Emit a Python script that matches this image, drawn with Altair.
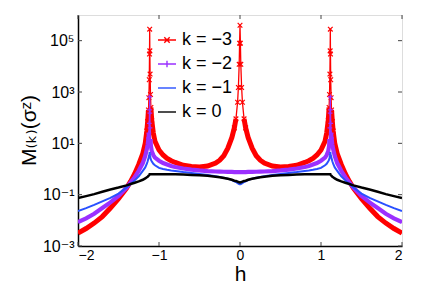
import math
import altair as alt
import pandas as pd

# ---------------- data ----------------
h = [-2.0, -1.9, -1.8, -1.7, -1.6, -1.5, -1.4, -1.35, -1.3, -1.25, -1.2,
     -1.17, -1.15, -1.14, -1.13, -1.125, -1.12, -1.117, -1.115, -1.113, -1.11,
     -1.105, -1.1, -1.09, -1.07, -1.05, -1.0, -0.95, -0.9, -0.85, -0.8, -0.7,
     -0.6, -0.5, -0.4, -0.3, -0.25, -0.2, -0.15, -0.1, -0.07, -0.05, -0.03,
     -0.02, -0.01, -0.005, 0.0,
     0.005, 0.01, 0.02, 0.03, 0.05, 0.07, 0.1, 0.15, 0.2, 0.25, 0.3, 0.4, 0.5,
     0.6, 0.7, 0.8, 0.85, 0.9, 0.95, 1.0, 1.05, 1.07, 1.09, 1.1, 1.105, 1.11,
     1.113, 1.115, 1.117, 1.12, 1.125, 1.13, 1.14, 1.15, 1.17, 1.2, 1.25, 1.3,
     1.35, 1.4, 1.5, 1.6, 1.7, 1.8, 1.9, 2.0]

m_k_minus3 = [0.0032, 0.0048, 0.0078, 0.014, 0.03, 0.07, 0.18, 0.33, 0.65, 1.5, 4,
              10, 30, 70, 200, 600, 3000, 30000, 280000, 40000, 5000,
              800, 250, 80, 25, 12, 5.5, 3.5, 2.6, 2.1, 1.8, 1.4,
              1.25, 1.2, 1.3, 1.7, 2.2, 3.3, 6.5, 17, 40, 90, 400,
              1500, 12000, 80000, 400000,
              80000, 12000, 1500, 400, 90, 40, 17, 6.5, 3.3, 2.2, 1.7, 1.3, 1.2,
              1.25, 1.4, 1.8, 2.1, 2.6, 3.5, 5.5, 12, 25, 80, 250, 800, 5000,
              40000, 280000, 30000, 3000, 600, 200, 70, 30, 10, 4, 1.5, 0.65,
              0.33, 0.18, 0.07, 0.03, 0.014, 0.0078, 0.0048, 0.0032]

m_k_minus2 = [0.0085, 0.012, 0.018, 0.03, 0.05, 0.09, 0.19, 0.3, 0.48, 0.85, 1.7,
              3.2, 6, 9, 16, 25, 60, 200, 650, 150, 40,
              14, 8, 5, 3.5, 2.8, 2.1, 1.7, 1.5, 1.3, 1.2, 1.05,
              0.95, 0.88, 0.83, 0.8, 0.79, 0.78, 0.77, 0.77, 0.76, 0.76, 0.76,
              0.76, 0.76, 0.76, 0.76,
              0.76, 0.76, 0.76, 0.76, 0.76, 0.76, 0.77, 0.77, 0.78, 0.79, 0.8, 0.83, 0.88,
              0.95, 1.05, 1.2, 1.3, 1.5, 1.7, 2.1, 2.8, 3.5, 5, 8, 14, 40,
              150, 650, 200, 60, 25, 16, 9, 6, 3.2, 1.7, 0.85, 0.48,
              0.3, 0.19, 0.09, 0.05, 0.03, 0.018, 0.012, 0.0085]

m_k_minus1 = [0.023, 0.03, 0.04, 0.055, 0.075, 0.11, 0.19, 0.26, 0.36, 0.52, 0.85,
              1.15, 1.6, 2.0, 2.6, 3.0, 3.4, 4.0, 4.6, 3.9, 3.3,
              2.7, 2.3, 2.0, 1.6, 1.4, 1.1, 1.0, 0.93, 0.88, 0.84, 0.76,
              0.7, 0.64, 0.58, 0.52, 0.49, 0.46, 0.42, 0.37, 0.33, 0.31, 0.28,
              0.27, 0.26, 0.255, 0.25,
              0.255, 0.26, 0.27, 0.28, 0.31, 0.33, 0.37, 0.42, 0.46, 0.49, 0.52, 0.58, 0.64,
              0.7, 0.76, 0.84, 0.88, 0.93, 1.0, 1.1, 1.4, 1.6, 2.0, 2.3, 2.7, 3.3,
              3.9, 4.6, 4.0, 3.4, 3.0, 2.6, 2.0, 1.6, 1.15, 0.85, 0.52, 0.36,
              0.26, 0.19, 0.11, 0.075, 0.055, 0.04, 0.03, 0.023]

m_k_0 = [0.074, 0.088, 0.105, 0.13, 0.16, 0.19, 0.23, 0.26, 0.29, 0.33, 0.38,
         0.43, 0.48, 0.5, 0.54, 0.56, 0.58, 0.6, 0.63, 0.63, 0.63,
         0.63, 0.63, 0.63, 0.63, 0.63, 0.63, 0.63, 0.62, 0.62, 0.62, 0.61,
         0.59, 0.57, 0.54, 0.5, 0.48, 0.45, 0.42, 0.38, 0.35, 0.34, 0.32,
         0.31, 0.305, 0.3, 0.3,
         0.3, 0.305, 0.31, 0.32, 0.34, 0.35, 0.38, 0.42, 0.45, 0.48, 0.5, 0.54, 0.57,
         0.59, 0.61, 0.62, 0.62, 0.62, 0.63, 0.63, 0.63, 0.63, 0.63, 0.63, 0.63, 0.63,
         0.63, 0.63, 0.6, 0.58, 0.56, 0.54, 0.5, 0.48, 0.43, 0.38, 0.33, 0.29,
         0.26, 0.23, 0.19, 0.16, 0.13, 0.105, 0.088, 0.074]

series_labels = ["k = \u22123", "k = \u22122", "k = \u22121", "k = 0"]
series_values = [m_k_minus3, m_k_minus2, m_k_minus1, m_k_0]

x_tick_values = [-2, -1, 0, 1, 2]
x_tick_labels = ["\u22122", "\u22121", "0", "1", "2"]
y_tick_values = [1e-3, 1e-1, 1e1, 1e3, 1e5]
y_tick_labels = ["10\u207b\u00b3", "10\u207b\u00b9", "10\u00b9", "10\u00b3", "10\u2075"]
y_domain = [1e-3, 1e6]
x_domain = [-2, 2]

x_title = "h"
y_title = "M\u208d\u2096\u208e(\u03c3\u1dbb)"

# ---------------- style ----------------
W, H = 324, 231
FONT = "Liberation Sans, Arial, DejaVu Sans, sans-serif"
series_colors = ["#ff0000", "#9b30ff", "#2850ff", "#000000"]
thin_width = [1.3, 1.3, 2.0, 2.5]
thick_width = [5.0, 4.2, None, None]
thick_below = [300, 40, None, None]
marker_above = [30, 10, None, None]
marker_path = ["M-1,-1L1,1M-1,1L1,-1", "M-1,0H1M0,-1V1", None, None]
legend_path = ["M-1,0H1M-0.3,-0.3L0.3,0.3M-0.3,0.3L0.3,-0.3",
               "M-1,0H1M0,-0.35V0.35", "M-1,0H1", "M-1,0H1"]
legend_width = [1.4, 1.4, 3.0, 3.0]
legend_opacity = [1.0, 1.0, 0.45, 1.0]


def ternary(key_expr, keys, labels):
    s = "''"
    for k, l in reversed(list(zip(keys, labels))):
        s = f"({key_expr} == {k}) ? '{l}' : {s}"
    return s


x_label_expr = ternary("round(datum.value * 10)", [round(v * 10) for v in x_tick_values], x_tick_labels)
y_label_expr = ternary("round(log(datum.value) / LN10)", [round(math.log10(v)) for v in y_tick_values], y_tick_labels)

# ---------------- tables ----------------
rows = []
thick_rows = []
marker_rows = []
for i, (lab, vals) in enumerate(zip(series_labels, series_values)):
    run = 0
    prev_in = False
    for hv, v in zip(h, vals):
        rows.append({"h": hv, "v": v, "k": lab, "s": i})
        if thick_below[i] is not None:
            inside = v < thick_below[i]
            if inside:
                if not prev_in:
                    run += 1
                thick_rows.append({"h": hv, "v": v, "k": lab, "s": i, "seg": f"{i}-{run}"})
            prev_in = inside
        if marker_above[i] is not None and v >= marker_above[i]:
            marker_rows.append({"h": hv, "v": v, "k": lab, "s": i})

df = pd.DataFrame(rows)
df_thick = pd.DataFrame(thick_rows)
df_mark = pd.DataFrame(marker_rows)

legend = alt.Legend(title=None, orient="none", legendX=79, legendY=15,
                    labelFontSize=18, labelFont=FONT, labelColor="#000",
                    symbolSize=324, rowPadding=5, padding=0, labelOffset=5,
                    labelLimit=200)

color_enc = alt.Color("k:O", sort=series_labels,
                      scale=alt.Scale(domain=series_labels, range=series_colors),
                      legend=legend)

x_enc = alt.X("h:Q", scale=alt.Scale(domain=x_domain, nice=False, zero=False),
              axis=alt.Axis(values=x_tick_values, labelExpr=x_label_expr, title=x_title,
                            grid=False, ticks=False, labelFontSize=14, labelFont=FONT,
                            labelColor="#000", labelPadding=2, domainColor="#000",
                            domainWidth=1.5, titleFontSize=21, titleFont=FONT,
                            titleFontWeight="normal", titleColor="#000",
                            titleBaseline="alphabetic", titleY=34))
y_enc = alt.Y("v:Q", scale=alt.Scale(type="log", domain=y_domain, nice=False),
              axis=alt.Axis(values=y_tick_values, labelExpr=y_label_expr, title=y_title,
                            grid=False, ticks=False, labelFontSize=16, labelFont=FONT,
                            labelColor="#000", labelPadding=4, domainColor="#000",
                            domainWidth=1.5, titleFontSize=21, titleFont=FONT,
                            titleFontWeight="normal", titleColor="#000",
                            titleAngle=270, titleAlign="center", titleBaseline="alphabetic",
                            titleX=-43, titleY=115))

layers = []
for i, lab in enumerate(series_labels):
    base = alt.Chart(df).transform_filter(f"datum.s == {i}")
    layers.append(base.mark_line(strokeWidth=thin_width[i], clip=True, interpolate="linear")
                  .encode(x=x_enc, y=y_enc, color=color_enc))
    if thick_below[i] is not None:
        layers.append(alt.Chart(df_thick).transform_filter(f"datum.s == {i}")
                      .mark_line(strokeWidth=thick_width[i], clip=True)
                      .encode(x=x_enc, y=y_enc, color=color_enc, detail="seg:N"))
    if marker_above[i] is not None:
        layers.append(alt.Chart(df_mark).transform_filter(f"datum.s == {i}")
                      .mark_point(shape=marker_path[i], filled=False, size=22,
                                  strokeWidth=1.2, opacity=1, clip=True)
                      .encode(x=x_enc, y=y_enc, color=color_enc))

# legend carrier layer (draws no data)
layers.append(alt.Chart(df).transform_filter("datum.h > 99")
              .mark_point(filled=False)
              .encode(x=x_enc, y=y_enc, color=color_enc,
                      shape=alt.Shape("k:O", sort=series_labels,
                                      scale=alt.Scale(domain=series_labels, range=legend_path),
                                      legend=legend),
                      strokeWidth=alt.StrokeWidth("k:O", sort=series_labels,
                                                  scale=alt.Scale(domain=series_labels, range=legend_width),
                                                  legend=legend),
                      opacity=alt.Opacity("k:O", sort=series_labels,
                                          scale=alt.Scale(domain=series_labels, range=legend_opacity),
                                          legend=legend)))

# inward tick marks on all four sides
xt = pd.DataFrame({"h": x_tick_values})
yt = pd.DataFrame({"v": y_tick_values})
tick_color = "#444"
x_tick_pos = alt.X("h:Q", scale=alt.Scale(domain=x_domain, nice=False, zero=False))
y_tick_pos = alt.Y("v:Q", scale=alt.Scale(type="log", domain=y_domain, nice=False))
layers += [
    alt.Chart(xt).mark_rule(color=tick_color, strokeWidth=1).encode(x=x_tick_pos, y=alt.value(H - 4), y2=alt.value(H)),
    alt.Chart(xt).mark_rule(color=tick_color, strokeWidth=1).encode(x=x_tick_pos, y=alt.value(0), y2=alt.value(4)),
    alt.Chart(yt).mark_rule(color=tick_color, strokeWidth=1).encode(y=y_tick_pos, x=alt.value(0), x2=alt.value(4)),
    alt.Chart(yt).mark_rule(color=tick_color, strokeWidth=1).encode(y=y_tick_pos, x=alt.value(W - 4), x2=alt.value(W)),
]

chart = (alt.layer(*layers)
         .properties(width=W, height=H,
                     padding={"left": 70, "top": 7, "right": 26, "bottom": 38},
                     autosize=alt.AutoSizeParams(type="none"))
         .configure_view(stroke="#8c8c8c", strokeWidth=2)
         .configure(background="white"))

chart.save("out.html", embed_options={"renderer": "svg", "actions": False})
